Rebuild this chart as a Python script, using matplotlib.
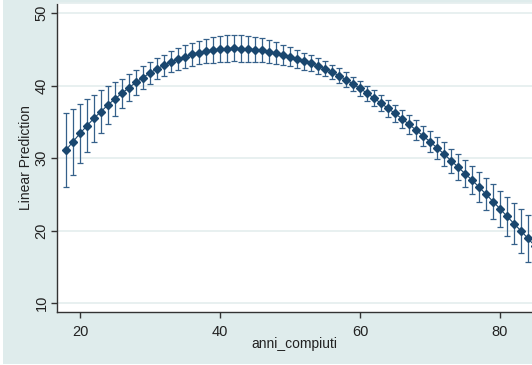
import numpy as np
import matplotlib.pyplot as plt
from matplotlib.patches import Rectangle

plt.rcParams['font.family'] = ['Liberation Sans', 'DejaVu Sans']

# predictive margins by age
age = list(range(18, 86))
pred = [31.1, 32.25, 33.4, 34.45, 35.5, 36.4, 37.35, 38.15, 38.95, 39.7,
        40.45, 41.1, 41.75, 42.3, 42.8, 43.25, 43.65, 44.0, 44.3, 44.55,
        44.75, 44.9, 45.05, 45.1, 45.15, 45.1, 45.05, 44.95, 44.85, 44.65,
        44.45, 44.2, 43.95, 43.65, 43.35, 43.05, 42.7, 42.3, 41.85, 41.35,
        40.8, 40.2, 39.6, 38.95, 38.25, 37.55, 36.85, 36.15, 35.4, 34.65,
        33.85, 33.05, 32.25, 31.4, 30.55, 29.65, 28.75, 27.85, 26.95, 26.0,
        25.0, 24.0, 23.0, 21.95, 20.95, 19.95, 18.9, 17.85]
ci_half = [5.05, 4.55, 4.1, 3.65, 3.25, 2.95, 2.6, 2.3, 2.0, 1.85,
           1.7, 1.65, 1.5, 1.45, 1.45, 1.45, 1.5, 1.55, 1.6, 1.65,
           1.7, 1.75, 1.8, 1.8, 1.8, 1.8, 1.75, 1.7, 1.65, 1.6,
           1.5, 1.4, 1.3, 1.2, 1.15, 1.1, 1.05, 1.05, 1.0, 1.0,
           1.0, 1.0, 1.05, 1.05, 1.1, 1.1, 1.15, 1.2, 1.25, 1.3,
           1.35, 1.4, 1.45, 1.5, 1.6, 1.65, 1.75, 1.85, 1.95, 2.1,
           2.2, 2.35, 2.5, 2.65, 2.85, 3.05, 3.3, 3.5]
yticks = [10, 20, 30, 40, 50]
xticks = [20, 40, 60, 80]

navy = '#1a476f'
bg = '#dfecec'
grid = '#e6efef'

W, H = 532, 365
fig = plt.figure(figsize=(W / 100, H / 100), dpi=100, facecolor='white')
fig.patches.append(Rectangle((3 / W, 1 / H), 1, 1, transform=fig.transFigure,
                             facecolor=bg, edgecolor='none', zorder=-10))

ax = fig.add_axes([57 / W, (H - 312) / H, 1 - 57 / W, (312 - 3) / H])
ax.set_zorder(1)
ax.set_facecolor('white')

ax.errorbar(age, pred, yerr=ci_half, fmt='none', ecolor='#35608a', elinewidth=0.9,
            capsize=2.4, capthick=0.9, zorder=2)
ax.plot(age, pred, color=navy, lw=0.8, marker='D', markersize=4.1,
        markerfacecolor=navy, markeredgecolor=navy, zorder=3)

ax.set_xlim(16.71, 84.57)
ax.set_ylim(8.76, 51.38)
ax.set_xticks(xticks)
ax.set_yticks(yticks)
ax.set_yticklabels([str(t) for t in yticks], rotation=90, va='center')
ax.tick_params(axis='both', length=4, width=1, color='#333333',
               labelsize=10.5, labelcolor='#222222')
ax.tick_params(axis='x', pad=5)
ax.tick_params(axis='y', pad=2)
ax.yaxis.grid(True, color=grid, lw=1.3)
ax.set_axisbelow(True)

for side in ['left', 'bottom']:
    ax.spines[side].set_color('#333333')
    ax.spines[side].set_linewidth(1.0)
ax.spines['top'].set_color(grid)
ax.spines['top'].set_linewidth(1.3)
ax.spines['right'].set_visible(False)

ax.set_xlabel('anni_compiuti', fontsize=10, color='#222222', labelpad=-1)
ax.set_ylabel('Linear Prediction', fontsize=10, color='#222222', labelpad=1)

fig.savefig('out.png', dpi=100, facecolor=fig.get_facecolor())
